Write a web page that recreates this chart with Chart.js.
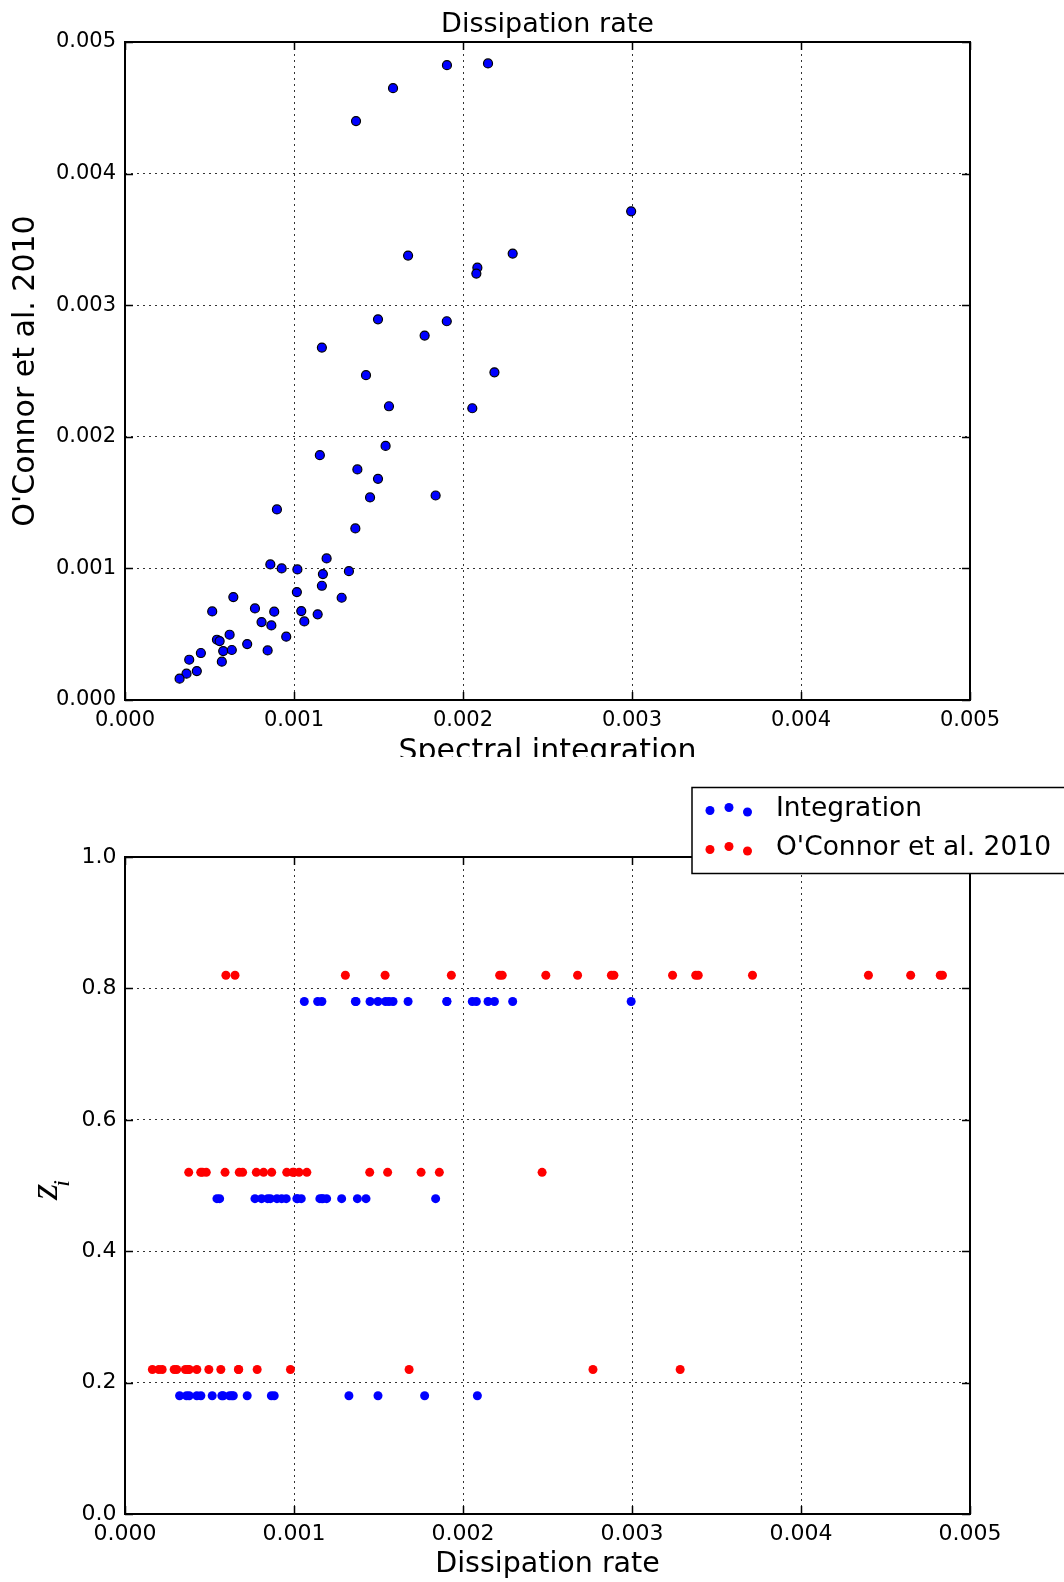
<!DOCTYPE html>
<html>
<head>
<meta charset="utf-8">
<title>Dissipation rate</title>
<script src="https://cdn.jsdelivr.net/npm/chart.js@4.4.1/dist/chart.umd.min.js"></script>
<style>
  html, body { margin: 0; padding: 0; background: #fff; }
  #page { position: relative; width: 1064px; height: 1582px; overflow: hidden; background: #fff; }
  #topo { position: absolute; left: 0; top: 0; width: 1064px; height: 757px; overflow: hidden; }
  #baixo { position: absolute; left: 0; top: 757px; width: 1064px; height: 825px; }
  canvas { display: block; }
</style>
</head>
<body>
<div id="page">
  <div id="topo"><canvas id="scatterChart" width="1064" height="800"></canvas></div>
  <div id="baixo"><canvas id="depthChart" width="1064" height="825"></canvas></div>
</div>
<script>
// ===============================
// Data: one pair (spectral, O'Connor) per sample, grouped by depth z_i
// ===============================
const zLevels = [0.2, 0.5, 0.8];

// z_i = 0.2
const spectral02 = [0.002085, 0.001773, 0.001497, 0.001325, 0.000641, 0.000516, 0.000883, 0.000866, 0.000619,
                    0.000723, 0.000581, 0.000632, 0.000449, 0.000380, 0.000573, 0.000425, 0.000364, 0.000323];
const oconnor02  = [0.003285, 0.002769, 0.001681, 0.000979, 0.000782, 0.000673, 0.000671, 0.000567, 0.000496,
                    0.000425, 0.000372, 0.000380, 0.000357, 0.000306, 0.000291, 0.000220, 0.000200, 0.000162];

// z_i = 0.5
const spectral05 = [0.001426, 0.001153, 0.001375, 0.001838, 0.000899, 0.001193, 0.000860, 0.000927, 0.001020, 0.001171,
                    0.001165, 0.001017, 0.001282, 0.000769, 0.001043, 0.000808, 0.000954, 0.000544, 0.000560, 0.000844];
const oconnor05  = [0.002468, 0.001860, 0.001752, 0.001554, 0.001448, 0.001076, 0.001030, 0.001000, 0.000992, 0.000957,
                    0.000868, 0.000820, 0.000777, 0.000696, 0.000676, 0.000592, 0.000481, 0.000458, 0.000448, 0.000377];

// z_i = 0.8
const spectral08 = [0.001905, 0.002148, 0.001586, 0.001367, 0.001675, 0.002079, 0.002294, 0.001497, 0.001904, 0.001165,
                    0.002995, 0.002186, 0.001562, 0.002055, 0.001542, 0.001450, 0.001363, 0.001140, 0.001061];
const oconnor08  = [0.004824, 0.004837, 0.004649, 0.004399, 0.003377, 0.003240, 0.003392, 0.002893, 0.002878, 0.002678,
                    0.003713, 0.002490, 0.002232, 0.002217, 0.001931, 0.001539, 0.001304, 0.000651, 0.000597];

const rateTicks = [0, 0.001, 0.002, 0.003, 0.004, 0.005];
const zTicks = [0, 0.2, 0.4, 0.6, 0.8, 1.0];

const grupos = [
  { z: zLevels[0], spectral: spectral02, oconnor: oconnor02 },
  { z: zLevels[1], spectral: spectral05, oconnor: oconnor05 },
  { z: zLevels[2], spectral: spectral08, oconnor: oconnor08 }
];

// the two series sit just below / above their depth level
const rowShift = 0.02;

const FONT = "'DejaVu Sans', sans-serif";
Chart.defaults.font.family = FONT;
Chart.defaults.color = '#000';

// ===============================
// Shared helpers
// ===============================
function gridOpts() {
  return { color: 'rgba(0,0,0,0.8)', lineWidth: 1, drawTicks: false };
}

function fixedTicks(values) {
  return function (scale) {
    scale.ticks = values.map(v => ({ value: v }));
  };
}

// black box round the plot area with inward tick marks on all four sides
const molduraPlugin = {
  id: 'moldura',
  afterDraw(chart) {
    const { ctx, chartArea: a, scales } = chart;
    const len = 8;
    ctx.save();
    ctx.strokeStyle = '#000';
    ctx.lineWidth = 1.5;
    ctx.beginPath();
    scales.x.ticks.forEach(t => {
      const px = Math.round(scales.x.getPixelForValue(t.value)) + 0.5;
      ctx.moveTo(px, a.bottom); ctx.lineTo(px, a.bottom - len);
      ctx.moveTo(px, a.top); ctx.lineTo(px, a.top + len);
    });
    scales.y.ticks.forEach(t => {
      const py = Math.round(scales.y.getPixelForValue(t.value)) + 0.5;
      ctx.moveTo(a.left, py); ctx.lineTo(a.left + len, py);
      ctx.moveTo(a.right, py); ctx.lineTo(a.right - len, py);
    });
    ctx.stroke();
    ctx.lineWidth = 2;
    ctx.strokeRect(a.left, a.top, a.right - a.left, a.bottom - a.top);
    ctx.restore();
  }
};

// ===============================
// Top: spectral integration vs O'Connor et al. 2010
// ===============================
function graficoDispersao() {
  const pontos = [];
  grupos.forEach(g => {
    g.spectral.forEach((x, i) => pontos.push({ x: x, y: g.oconnor[i] }));
  });

  new Chart(document.getElementById('scatterChart'), {
    type: 'scatter',
    data: {
      datasets: [{
        data: pontos,
        backgroundColor: '#0000ff',
        borderColor: '#000',
        borderWidth: 1.2,
        pointRadius: 4.5
      }]
    },
    options: {
      responsive: false,
      animation: false,
      events: [],
      layout: { padding: { left: 0, right: 94, top: 0, bottom: 0 } },
      plugins: {
        legend: { display: false },
        tooltip: { enabled: false },
        title: {
          display: true,
          fullSize: false,
          text: 'Dissipation rate',
          color: '#000',
          font: { family: FONT, size: 27, weight: 'normal' },
          padding: { top: 9, bottom: 0.6 }
        }
      },
      scales: {
        x: {
          type: 'linear', min: 0, max: 0.005,
          afterBuildTicks: fixedTicks(rateTicks),
          ticks: { callback: v => Number(v).toFixed(3), font: { size: 21 }, padding: 8, maxRotation: 0, autoSkip: false },
          grid: gridOpts(),
          border: { display: false, dash: [2, 4] },
          title: { display: true, text: 'Spectral integration', font: { size: 30 }, padding: { top: 0, bottom: 30 } },
          afterFit: s => { s.height = 100; }
        },
        y: {
          type: 'linear', min: 0, max: 0.005,
          afterBuildTicks: fixedTicks(rateTicks),
          ticks: { callback: v => Number(v).toFixed(3), font: { size: 21 }, padding: 9 },
          grid: gridOpts(),
          border: { display: false, dash: [2, 4] },
          title: { display: true, text: "O'Connor et al. 2010", font: { size: 30 }, padding: { top: 8.5, bottom: 0 } },
          afterFit: s => { s.width = 125; }
        }
      }
    },
    plugins: [molduraPlugin]
  });
}

// ===============================
// Bottom: dissipation rate per depth
// ===============================

// z_i axis label, drawn by hand for the subscript
const rotuloZiPlugin = {
  id: 'rotuloZi',
  afterDraw(chart) {
    const { ctx } = chart;
    ctx.save();
    ctx.translate(57, 443);
    ctx.rotate(-Math.PI / 2);
    ctx.fillStyle = '#000';
    ctx.textBaseline = 'alphabetic';
    ctx.font = "italic 42px 'Liberation Serif', serif";
    ctx.fillText('z', 0, 0);
    const w = ctx.measureText('z').width;
    ctx.font = "italic 24px 'Liberation Serif', serif";
    ctx.fillText('i', w - 3, 12);
    ctx.restore();
  }
};

// legend box with three scatter markers per entry, hanging off the right edge
const legendaPlugin = {
  id: 'legenda',
  afterDraw(chart) {
    const { ctx } = chart;
    const box = { x: 692, y: 30.5, w: 420, h: 86 };
    const dotsX = [710, 729, 747.5];
    const dotsDy = [1, -2, 2.5];
    const rows = [52.5, 91.5];
    ctx.save();
    ctx.fillStyle = '#fff';
    ctx.fillRect(box.x, box.y, box.w, box.h);
    ctx.strokeStyle = '#000';
    ctx.lineWidth = 1.5;
    ctx.strokeRect(box.x, box.y, box.w, box.h);
    chart.data.datasets.forEach((ds, i) => {
      ctx.fillStyle = ds.backgroundColor;
      dotsX.forEach((x, k) => {
        ctx.beginPath();
        ctx.arc(x, rows[i] + dotsDy[k], ds.pointRadius, 0, Math.PI * 2);
        ctx.fill();
      });
      ctx.fillStyle = '#000';
      ctx.font = '26.5px ' + FONT;
      ctx.textBaseline = 'middle';
      ctx.fillText(ds.label, 776, rows[i]);
    });
    ctx.restore();
  }
};

function graficoProfundidade() {
  const integracao = [];
  const oconnor = [];
  grupos.forEach(g => {
    g.spectral.forEach(x => integracao.push({ x: x, y: g.z - rowShift }));
    g.oconnor.forEach(x => oconnor.push({ x: x, y: g.z + rowShift }));
  });

  new Chart(document.getElementById('depthChart'), {
    type: 'scatter',
    data: {
      datasets: [
        { label: 'Integration', data: integracao, backgroundColor: '#0000ff', borderWidth: 0, pointRadius: 4.5 },
        { label: "O'Connor et al. 2010", data: oconnor, backgroundColor: '#ff0000', borderWidth: 0, pointRadius: 4.5 }
      ]
    },
    options: {
      responsive: false,
      animation: false,
      events: [],
      layout: { padding: { left: 0, right: 94, top: 100, bottom: 0 } },
      plugins: {
        legend: { display: false },
        tooltip: { enabled: false }
      },
      scales: {
        x: {
          type: 'linear', min: 0, max: 0.005,
          afterBuildTicks: fixedTicks(rateTicks),
          ticks: { callback: v => Number(v).toFixed(3), font: { size: 22 }, padding: 7, maxRotation: 0, autoSkip: false },
          grid: gridOpts(),
          border: { display: false, dash: [2, 4] },
          title: { display: true, text: 'Dissipation rate', font: { size: 28.5 }, padding: { top: 0, bottom: 0 } },
          afterFit: s => { s.height = 68; }
        },
        y: {
          type: 'linear', min: 0, max: 1,
          afterBuildTicks: fixedTicks(zTicks),
          ticks: { callback: v => Number(v).toFixed(1), font: { size: 22 }, padding: 8.5 },
          grid: gridOpts(),
          border: { display: false, dash: [2, 4] },
          afterFit: s => { s.width = 125; }
        }
      }
    },
    plugins: [molduraPlugin, rotuloZiPlugin, legendaPlugin]
  });
}

window.addEventListener('DOMContentLoaded', () => {
  graficoDispersao();
  graficoProfundidade();
});
</script>
</body>
</html>
